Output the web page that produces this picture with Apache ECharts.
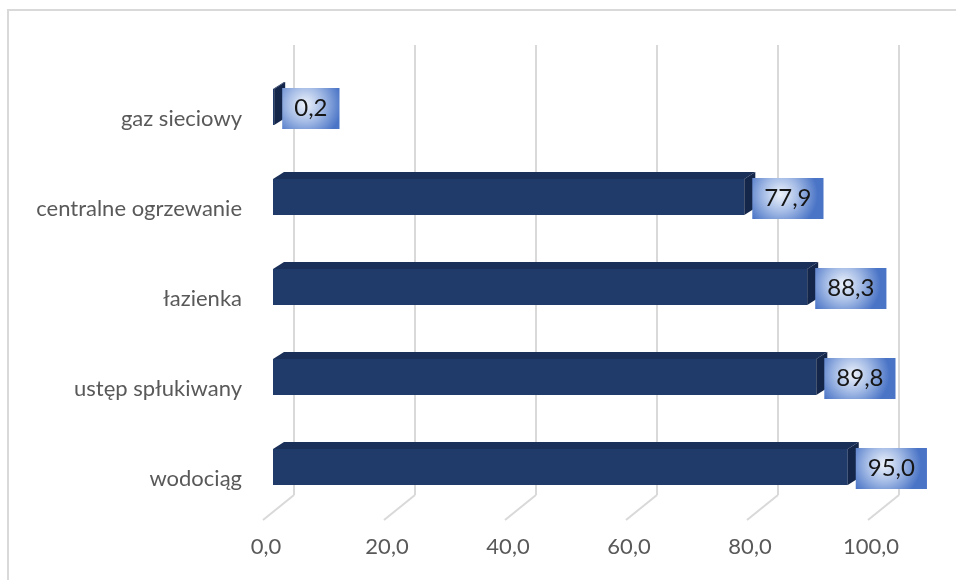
<!DOCTYPE html>
<html><head><meta charset="utf-8">
<script src="https://cdn.jsdelivr.net/npm/echarts@6/dist/echarts.min.js"></script>
<style>html,body{margin:0;padding:0;background:#fff}#c{width:956px;height:580px}</style>
</head><body><div id="c"></div>
<script>
const categories = ['wodociąg', 'ustęp spłukiwany', 'łazienka', 'centralne ogrzewanie', 'gaz sieciowy'];
const values = [95.0, 89.8, 88.3, 77.9, 0.2];
const xTicks = [0, 20, 40, 60, 80, 100];

const FONT = 'Lato, "Open Sans", sans-serif';
const fmt = v => v.toFixed(1).replace('.', ',');
const measureCtx = document.createElement('canvas').getContext('2d');
function textW(t, size) { measureCtx.font = size + 'px ' + FONT; return measureCtx.measureText(t).width; }

const chart = echarts.init(document.getElementById('c'), null, { renderer: 'canvas' });

const DX = 11, DY = -7;       // bar depth
const GX = 21, GY = -17;      // back wall offset for gridlines

function gridItem(params, api) {
  const v = api.value(0);
  const cs = params.coordSys;
  const x = api.coord([v, 0])[0];
  const top = cs.y + GY, bottom = cs.y + cs.height + GY;
  return {
    type: 'group',
    children: [
      { type: 'line', shape: { x1: x + GX, y1: top, x2: x + GX, y2: bottom }, style: { stroke: '#d9d9d9', lineWidth: 2 } },
      { type: 'line', shape: { x1: x + GX, y1: bottom, x2: x - 10, y2: cs.y + cs.height + 8 }, style: { stroke: '#d9d9d9', lineWidth: 2 } }
    ]
  };
}

function barItem(params, api) {
  const v = api.value(0), i = api.value(1);
  const s = api.coord([0, i]), e = api.coord([v, i]);
  const h = api.size([0, 1])[1] * 0.4;
  const x0 = s[0], x1 = e[0], y0 = s[1] - h / 2, y1 = s[1] + h / 2;
  const txt = fmt(v);
  const fs = 24;
  const bw = textW(txt, fs) + 24, bh = 41;
  const bx = x1 + 8, by = s[1] + 1.5 - bh / 2;
  return {
    type: 'group',
    children: [
      { type: 'rect', shape: { x: x0, y: y0, width: Math.max(x1 - x0, 0.5), height: h }, style: { fill: '#203a69' } },
      { type: 'polygon', shape: { points: [[x0, y0], [x0 + DX, y0 + DY], [x1 + DX, y0 + DY], [x1, y0]] }, style: { fill: '#1b3059' } },
      { type: 'polygon', shape: { points: [[x1, y0], [x1 + DX, y0 + DY], [x1 + DX, y1 + DY], [x1, y1]] }, style: { fill: '#14264a' } },
      { type: 'rect', shape: { x: bx, y: by, width: bw, height: bh },
        style: { fill: new echarts.graphic.RadialGradient(0.4, 0.4, 0.9, [
          { offset: 0, color: '#eef3fb' }, { offset: 0.45, color: '#a9bfe7' }, { offset: 1, color: '#4a74c6' }]) } },
      { type: 'text', x: bx + bw / 2, y: by + bh / 2,
        style: { text: txt, fill: '#161616', font: fs + 'px ' + FONT, align: 'center', verticalAlign: 'middle' } }
    ]
  };
}

chart.setOption({
  animation: false,
  backgroundColor: '#fff',
  textStyle: { fontFamily: FONT },
  graphic: [{ type: 'rect', shape: { x: 8, y: 10, width: 960, height: 600 }, style: { fill: 'none', stroke: '#d9d9d9', lineWidth: 2 }, z: 100 }],
  grid: { left: 273, right: 78, top: 62, bottom: 68 },
  xAxis: {
    type: 'value', min: 0, max: 100, interval: 20,
    axisLine: { show: false }, axisTick: { show: false }, splitLine: { show: false },
    axisLabel: { formatter: v => fmt(v), color: '#595959', fontSize: 22, fontFamily: FONT, margin: 24, padding: [0, 14, 0, 0] }
  },
  yAxis: {
    type: 'category', data: categories,
    axisLine: { show: false }, axisTick: { show: false }, splitLine: { show: false },
    axisLabel: { color: '#595959', fontSize: 22, fontFamily: FONT, margin: 31, verticalAlign: 'top', padding: [1, 0, 0, 0] }
  },
  series: [
    { type: 'custom', renderItem: gridItem, data: xTicks.map(v => [v]), z: 1, silent: true },
    { type: 'custom', renderItem: barItem, data: values.map((v, i) => [v, i]), z: 2 }
  ]
});
</script></body></html>
